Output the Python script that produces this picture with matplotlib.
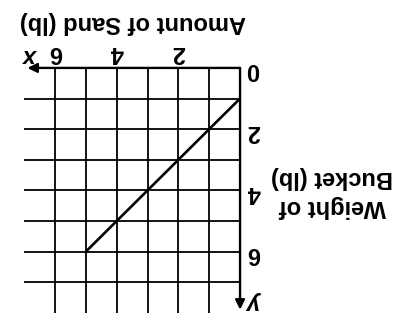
import matplotlib
matplotlib.use('Agg')
import matplotlib.pyplot as plt

# data: weight of bucket vs amount of sand
sand = [0, 1, 2, 3, 4, 5]
weight = [1, 2, 3, 4, 5, 6]
x_ticks = [2, 4, 6]
y_ticks = [2, 4, 6]
grid_x = [1, 2, 3, 4, 5, 6]
grid_y = [1, 2, 3, 4, 5, 6, 7]

plt.rcParams['font.family'] = ['Liberation Sans Narrow', 'Liberation Sans', 'DejaVu Sans']

fig = plt.figure(figsize=(4.12, 3.28), dpi=100)
ax = fig.add_axes([0, 0, 1, 1])
ax.set_axis_off()

# the whole picture is shown upside down (rotated 180 degrees)
ax.set_xlim(7.79, -5.58)
ax.set_ylim(8.50, -2.22)

# grid
ax.vlines(grid_x, 0, 8.0, color='black', lw=1.3)
ax.hlines(grid_y, 0, 7.0, color='black', lw=1.3)

# axes with arrows
ax.annotate('', xy=(6.9, 0), xytext=(0, 0),
            arrowprops=dict(arrowstyle='-|>', color='black', lw=1.7,
                            mutation_scale=14, shrinkA=0, shrinkB=0))
ax.annotate('', xy=(0, 7.9), xytext=(0, 0),
            arrowprops=dict(arrowstyle='-|>', color='black', lw=1.7,
                            mutation_scale=14, shrinkA=0, shrinkB=0))

# data line
ax.plot(sand, weight, color='black', lw=1.9, solid_capstyle='butt')

txt = dict(rotation=180, ha='center', va='center', fontweight='bold', color='black')

ax.text(-0.42, 0.05, '0', fontsize=17, **txt)
for t in x_ticks:
    ax.text(t, -0.5, str(t), fontsize=17, **txt)
for t in y_ticks:
    ax.text(-0.45, t + 0.07, str(t), fontsize=17, **txt)
ax.text(6.72, -0.42, 'x', fontsize=17, style='italic', **txt)
ax.text(-0.49, 7.68, 'y', fontsize=17, style='italic', **txt)

ax.text(3.46, -1.5, 'Amount of Sand (lb)', fontsize=17, **txt)
ax.text(-2.99, 4.05, 'Weight of\nBucket (lb)', fontsize=17,
        multialignment='center', linespacing=1.3, **txt)

fig.savefig('out.png', dpi=100)
